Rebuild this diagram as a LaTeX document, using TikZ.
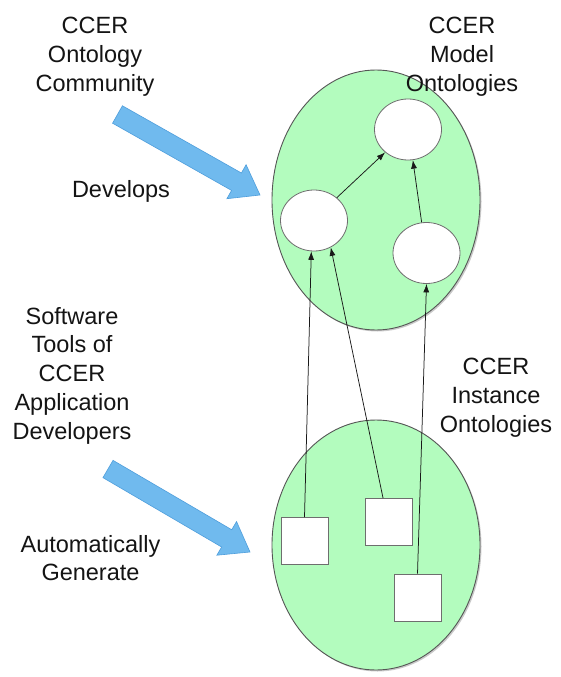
\documentclass[tikz,border=0pt]{standalone}
\usepackage{fontspec}
\setmainfont{Liberation Sans}
\usetikzlibrary{shapes.geometric,arrows.meta,calc,shadows}
\definecolor{ontgreen}{RGB}{179,252,190}
\definecolor{arrowblue}{RGB}{112,186,238}
\definecolor{arrowedge}{RGB}{78,158,220}
\definecolor{edgegray}{RGB}{85,85,85}
\tikzset{
  bigoval/.style={ellipse, draw=edgegray, line width=0.9pt, fill=ontgreen, inner sep=0pt,
    drop shadow={shadow xshift=1.5pt, shadow yshift=-1.5pt, opacity=0.35, fill=black!60}},
  classnode/.style={ellipse, draw=edgegray!85, fill=white, line width=0.8pt,
    minimum width=67pt, minimum height=61pt, inner sep=0pt},
  instnode/.style={rectangle, draw=edgegray!85, fill=white, line width=0.8pt,
    minimum size=47pt, inner sep=0pt},
  link/.style={draw=black!90, line width=0.75pt, -{Latex[length=8.5pt,width=6pt]}},
  txtblock/.style={anchor=north, align=center, inner sep=0pt,
    font=\fontsize{23.5}{28.7}\selectfont, text=black!92},
  fatblue/.style={fill=arrowblue, draw=arrowedge, line width=0.6pt, line join=miter},
}
\newcommand\bluearrow[2]{%
  \coordinate (#1base) at ($(#2)!27pt!(#1)$);
  \path[fatblue] ($(#1)!10pt!90:(#2)$) -- ($(#1base)!10pt!90:(#2)$)
    -- ($(#1base)!19.5pt!90:(#2)$) -- (#2) -- ($(#1base)!19.5pt!-90:(#2)$)
    -- ($(#1base)!10pt!-90:(#2)$) -- ($(#1)!10pt!-90:(#2)$) -- cycle;
}
\begin{document}
\begin{tikzpicture}[x=1pt,y=-1pt]
\useasboundingbox (0,0) rectangle (561,677);
\fill[white] (0,0) rectangle (561,677);

% big ovals
\node[bigoval, minimum width=208pt, minimum height=260pt] (model) at (376,200) {};
\node[bigoval, minimum width=208pt, minimum height=250pt] (inst) at (376,545) {};

% class nodes
\node[classnode] (c2) at (408,129.5) {};
\node[classnode] (c1) at (314,220.5) {};
\node[classnode] (c3) at (426.5,253) {};

% instance nodes
\node[instnode] (s1) at (304.5,541) {};
\node[instnode] (s2) at (389,522) {};
\node[instnode] (s3) at (417.5,597.5) {};

% connectors
\draw[link] (s1.north) -- (c1.-95);
\draw[link] (s2.104) -- (c1.-58);
\draw[link] (s3.north) -- (c3.south);
\draw[link] (c1.45) -- (c2.-135);
\draw[link] (c3.99) -- (c2.-81);

% blue arrows
\coordinate (t1) at (117.5,114.5);
\coordinate (h1) at (260,195);
\bluearrow{t1}{h1}
\coordinate (t2) at (108,469);
\coordinate (h2) at (250,552);
\bluearrow{t2}{h2}

% texts
\node[txtblock] (comm) at (95,17) {CCER\\Ontology\\Community};
\node[txtblock] (modeltxt) at (462,17) {CCER\\Model\\Ontologies};
\node[txtblock] (dev) at (121,180) {Develops};
\node[txtblock] (tools) at (72,307) {Software\\Tools of\\CCER\\Application\\Developers};
\node[txtblock] (insttxt) at (496,358) {CCER\\Instance\\Ontologies};
\node[txtblock] (gen) at (90.5,535) {Automatically\\Generate};
\end{tikzpicture}
\end{document}
